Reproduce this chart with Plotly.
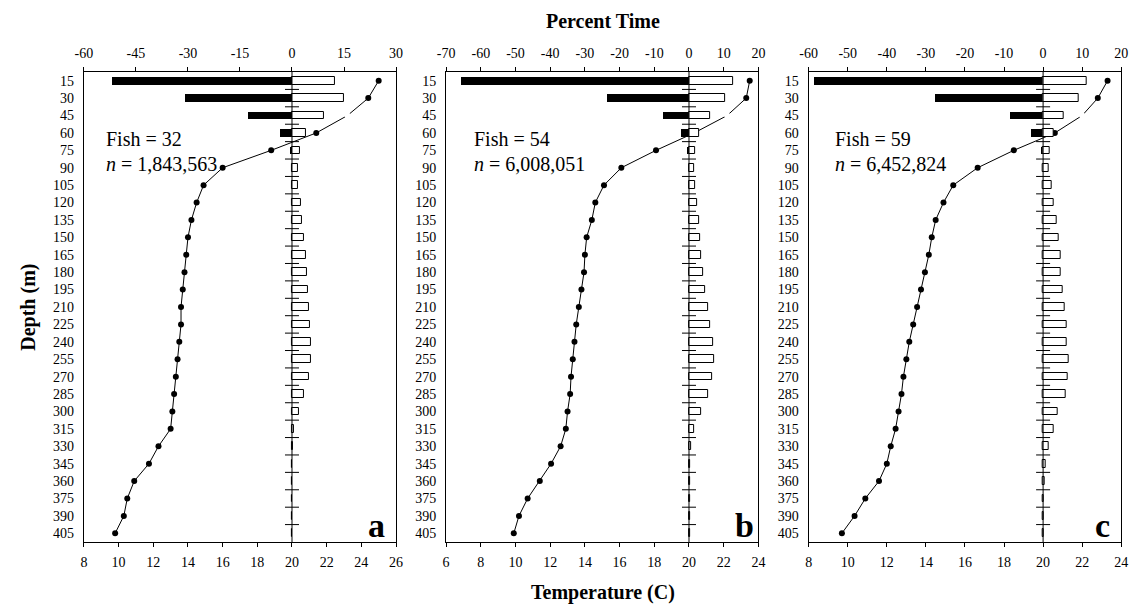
import plotly.graph_objects as go

# ---------------- data ----------------
depth = [15, 30, 45, 60, 75, 90, 105, 120, 135, 150, 165, 180, 195, 210,
         225, 240, 255, 270, 285, 300, 315, 330, 345, 360, 375, 390, 405]

# panel a
temp_a = [25.0, 24.4, 23.2, 21.4, 18.8, 16.0, 14.9, 14.5, 14.2, 14.0, 13.9, 13.8, 13.7, 13.6,
          13.6, 13.5, 13.4, 13.3, 13.2, 13.1, 13.0, 12.3, 11.75, 10.9, 10.5, 10.3, 9.8]
night_a = [-52.0, -31.0, -12.8, -3.4, -0.7] + [0] * 22
day_a = [12.4, 14.9, 9.1, 4.1, 2.3, 1.7, 1.7, 2.5, 2.8, 3.3, 4.0, 4.4, 4.5, 4.9,
         5.3, 5.6, 5.5, 4.9, 3.4, 2.0, 0.7, 0.2, 0.1, 0.1, 0.1, 0.1, 0.1]

# panel b
temp_b = [23.5, 23.3, 22.2, 20.3, 18.1, 16.1, 15.1, 14.6, 14.4, 14.1, 14.0, 13.95, 13.8, 13.65,
          13.5, 13.4, 13.3, 13.2, 13.15, 13.0, 12.9, 12.6, 12.05, 11.4, 10.7, 10.2, 9.9]
night_b = [-65.7, -23.7, -7.5, -2.4, -0.5] + [0] * 22
day_b = [12.7, 10.4, 6.1, 3.0, 1.7, 1.4, 1.7, 2.4, 2.8, 3.1, 3.6, 4.2, 4.7, 5.4,
         6.1, 6.9, 7.2, 6.8, 5.5, 3.4, 1.5, 0.6, 0.2, 0.2, 0.2, 0.2, 0.2]

# panel c
temp_c = [23.3, 22.8, 22.0, 20.6, 18.5, 16.65, 15.4, 14.9, 14.5, 14.3, 14.15, 13.95, 13.75, 13.55,
          13.35, 13.15, 13.0, 12.85, 12.75, 12.6, 12.45, 12.2, 12.0, 11.6, 10.9, 10.35, 9.7]
night_c = [-58.7, -27.7, -8.5, -3.1, -0.6] + [0] * 22
day_c = [11.1, 9.2, 5.3, 2.7, 1.6, 1.5, 2.1, 2.8, 3.4, 3.9, 4.5, 4.6, 5.1, 5.6,
         6.0, 6.1, 6.5, 6.4, 5.7, 3.8, 2.6, 1.3, 0.6, 0.3, 0.2, 0.2, 0.2]

fish_labels = ["Fish = 32", "Fish = 54", "Fish = 59"]
n_labels = ["1,843,563", "6,008,051", "6,452,824"]
panel_letters = ["a", "b", "c"]

temp_ranges = [[8, 26], [6, 24], [8, 24]]
temp_ticks = [list(range(8, 27, 2)), list(range(6, 25, 2)), list(range(8, 25, 2))]
pct_ranges = [[-60, 30], [-70, 20], [-60, 20]]
pct_ticks = [list(range(-60, 31, 15)), list(range(-70, 21, 10)), list(range(-60, 21, 10))]
masked_depth = 45  # point drawn hidden (white) in the original

# ---------------- layout geometry ----------------
W, H = 1146, 604
panel_px = [(76, 392.5), (443.3, 760), (811, 1128)]
y_top_px, y_bot_px = 72, 542
FONT = "Liberation Serif"

fig = go.Figure()
temps = [temp_a, temp_b, temp_c]
nights = [night_a, night_b, night_c]
days = [day_a, day_b, day_c]
boundaries = [(depth[i] + depth[i + 1]) / 2 for i in range(len(depth) - 1)]
marker_cols = ["white" if d == masked_depth else "black" for d in depth]

layout = {}
for p in range(3):
    xb = "x" if p == 0 else f"x{2 * p + 1}"
    xt = f"x{2 * p + 2}"
    yy = "y" if p == 0 else f"y{p + 1}"
    xb_key = "xaxis" if p == 0 else f"xaxis{2 * p + 1}"
    xt_key = f"xaxis{2 * p + 2}"
    y_key = "yaxis" if p == 0 else f"yaxis{p + 1}"
    x0, x1 = panel_px[p]
    dom = [x0 / W, x1 / W]
    ydom = [(H - y_bot_px) / H, (H - y_top_px) / H]

    fig.add_trace(go.Bar(orientation="h", y=depth, x=nights[p], width=6.6,
                         marker=dict(color="black", line=dict(width=0)),
                         xaxis=xt, yaxis=yy, showlegend=False))
    fig.add_trace(go.Bar(orientation="h", y=depth, x=days[p], width=6.6,
                         marker=dict(color="white", line=dict(color="black", width=1)),
                         xaxis=xt, yaxis=yy, showlegend=False))
    fig.add_trace(go.Scatter(x=[0] * len(boundaries), y=boundaries, mode="markers",
                             marker=dict(symbol="line-ew", size=10,
                                         line=dict(color="black", width=1)),
                             xaxis=xt, yaxis=yy, showlegend=False, hoverinfo="skip"))
    fig.add_shape(type="line", xref=xt, yref=f"{yy} domain", x0=0, x1=0, y0=0, y1=1,
                  line=dict(color="black", width=1), layer="above")
    fig.add_trace(go.Scatter(x=temps[p], y=depth, mode="lines",
                             line=dict(color="black", width=1),
                             xaxis=xb, yaxis=yy, showlegend=False))
    fig.add_trace(go.Scatter(x=temps[p], y=depth, mode="markers",
                             marker=dict(color=marker_cols, size=6, line=dict(width=0)),
                             xaxis=xb, yaxis=yy, showlegend=False))

    axis_common = dict(showline=True, linecolor="black", linewidth=1.3, showgrid=False,
                       zeroline=False, ticks="outside", ticklen=4, tickwidth=1,
                       tickcolor="black", tickfont=dict(family=FONT, size=14, color="black"))
    layout[xb_key] = dict(domain=dom, anchor=yy, side="bottom", range=temp_ranges[p],
                          tickvals=temp_ticks[p], ticktext=[str(v) for v in temp_ticks[p]],
                          ticklabelstandoff=3, **axis_common)
    layout[xt_key] = dict(overlaying=xb, anchor=yy, side="top", range=pct_ranges[p],
                          tickvals=pct_ticks[p], ticktext=[str(v) for v in pct_ticks[p]],
                          ticklabelstandoff=3, **axis_common)
    layout[y_key] = dict(domain=ydom, anchor=xb, range=[412.5, 7.5], tickvals=depth,
                         ticktext=[str(d) for d in depth], showline=True, mirror=True,
                         linecolor="black", linewidth=1.3, showgrid=False, zeroline=False,
                         ticks="", ticklabelstandoff=6,
                         tickfont=dict(family=FONT, size=14, color="black"))

    fish_off = [20.5, 26, 25][p]
    fig.add_annotation(text=fish_labels[p], xref="paper", yref="paper",
                       x=(x0 + fish_off) / W, y=1 - 139 / H, xanchor="left", yanchor="middle",
                       showarrow=False, font=dict(family=FONT, size=20, color="black"))
    fig.add_annotation(text=f"<i>n</i> = {n_labels[p]}", xref="paper", yref="paper",
                       x=(x0 + fish_off) / W, y=1 - 164 / H, xanchor="left", yanchor="middle",
                       showarrow=False, font=dict(family=FONT, size=20, color="black"))
    letter_gap = [9, 2, 9][p]
    fig.add_annotation(text=f"<b>{panel_letters[p]}</b>", xref="paper", yref="paper",
                       x=(x1 - letter_gap) / W, y=(H - 546) / H, xanchor="right",
                       yanchor="bottom", showarrow=False,
                       font=dict(family=FONT, size=34, color="black"))

fig.add_annotation(text="<b>Percent Time</b>", xref="paper", yref="paper",
                   x=602 / W, y=1 - 21 / H, xanchor="center", yanchor="middle",
                   showarrow=False, font=dict(family=FONT, size=20, color="black"))
fig.add_annotation(text="<b>Temperature (C)</b>", xref="paper", yref="paper",
                   x=602 / W, y=1 - 592 / H, xanchor="center", yanchor="middle",
                   showarrow=False, font=dict(family=FONT, size=20, color="black"))
fig.add_annotation(text="<b>Depth (m)</b>", xref="paper", yref="paper",
                   x=19 / W, y=1 - 307 / H, xanchor="center", yanchor="middle",
                   textangle=-90, showarrow=False,
                   font=dict(family=FONT, size=20, color="black"))

fig.update_layout(width=W, height=H, margin=dict(l=0, r=0, t=0, b=0),
                  paper_bgcolor="white", plot_bgcolor="white", barmode="overlay",
                  bargap=0, font=dict(family=FONT, color="black"), **layout)

fig.write_html("out.html")
